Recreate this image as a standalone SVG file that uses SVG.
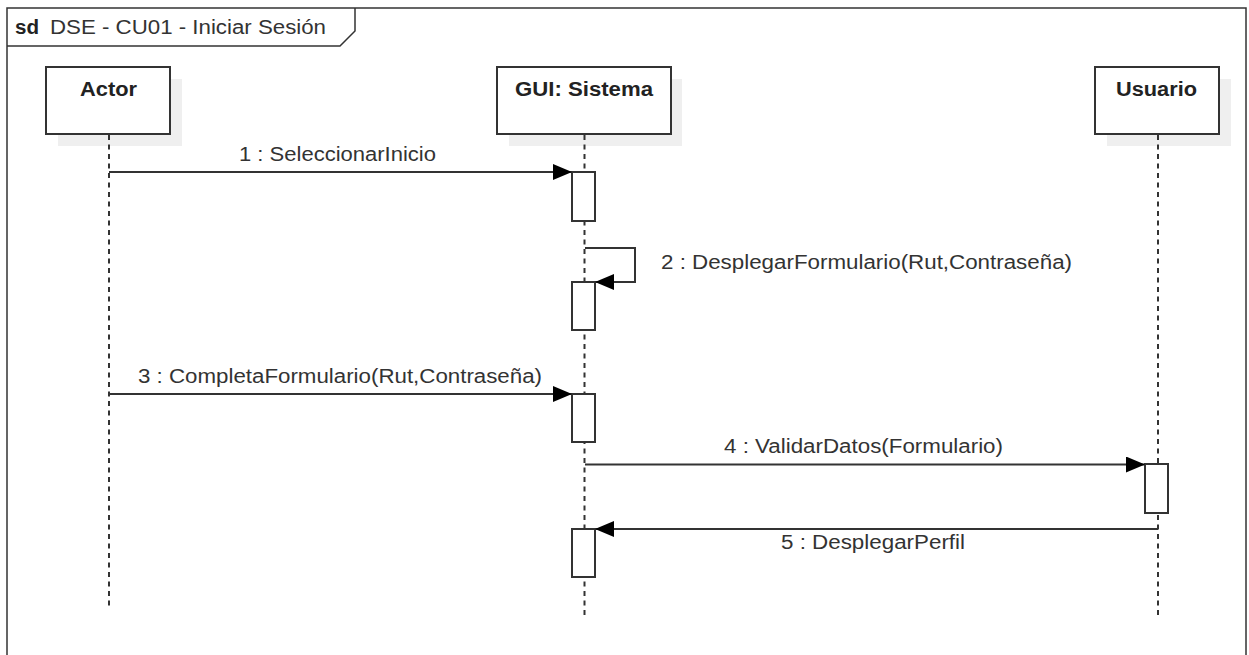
<svg xmlns="http://www.w3.org/2000/svg" width="1249" height="655" viewBox="0 0 1249 655">
<style>
.frame{fill:#fff;stroke:#333;stroke-width:1.5}
.shadow{fill:#efefef;stroke:none}
.box{fill:#fff;stroke:#333;stroke-width:2}
.act{fill:#fff;stroke:#333;stroke-width:2}
.life{fill:none;stroke:#333;stroke-width:2;stroke-dasharray:5 4.5}
.msg{fill:none;stroke:#333;stroke-width:2}
text{font-family:"Liberation Sans",Arial,sans-serif;font-size:20px;fill:#333}
.b{font-weight:bold;fill:#222}
</style>
<defs>
<marker id="arr" markerUnits="userSpaceOnUse" markerWidth="20" markerHeight="18" refX="19" refY="8" orient="auto">
<path d="M0,0 L19,8 L0,16 Z" fill="#000"/>
</marker>
</defs>
<rect width="1249" height="655" fill="#fff"/>
<g id="frame">
<rect class="frame" x="7" y="8" width="1239" height="660"/>
<path d="M7,46 H340 L355,31 V8" fill="none" stroke="#333" stroke-width="1.5"/>
<text class="b" x="15" y="34" textLength="24" lengthAdjust="spacingAndGlyphs">sd</text>
<text x="50" y="34" textLength="276" lengthAdjust="spacingAndGlyphs">DSE - CU01 - Iniciar Sesión</text>
</g>
<g id="actor">
<rect class="shadow" x="58" y="79" width="124" height="67"/>
<rect class="box" x="46" y="67" width="124" height="67"/>
<text class="b" x="80" y="96" textLength="57" lengthAdjust="spacingAndGlyphs">Actor</text>
<line class="life" x1="109" y1="135" x2="109" y2="606"/>
</g>
<g id="gui">
<rect class="shadow" x="509" y="79" width="173" height="67"/>
<rect class="box" x="497" y="67" width="174" height="67"/>
<text class="b" x="515" y="96" textLength="138" lengthAdjust="spacingAndGlyphs">GUI: Sistema</text>
<line class="life" x1="584.5" y1="135" x2="584.5" y2="617"/>
<rect class="act" x="572" y="172" width="23" height="49"/>
<rect class="act" x="572" y="282" width="23" height="48"/>
<rect class="act" x="572" y="394" width="23" height="48"/>
<rect class="act" x="572" y="529" width="23" height="48"/>
</g>
<g id="usuario">
<rect class="shadow" x="1107" y="79" width="124" height="67"/>
<rect class="box" x="1095" y="67" width="124" height="67"/>
<text class="b" x="1116" y="96" textLength="81" lengthAdjust="spacingAndGlyphs">Usuario</text>
<line class="life" x1="1158" y1="135" x2="1158" y2="617"/>
<rect class="act" x="1145" y="464" width="23" height="49"/>
</g>
<g id="connectors">
<line class="msg" x1="109" y1="172" x2="572" y2="172" marker-end="url(#arr)"/>
<text x="239" y="161" textLength="197" lengthAdjust="spacingAndGlyphs">1 : SeleccionarInicio</text>
<path class="msg" d="M585,248 H635 V282 H595" marker-end="url(#arr)"/>
<text x="661" y="269" textLength="411" lengthAdjust="spacingAndGlyphs">2 : DesplegarFormulario(Rut,Contraseña)</text>
<line class="msg" x1="109" y1="394" x2="572" y2="394" marker-end="url(#arr)"/>
<text x="138" y="383" textLength="404" lengthAdjust="spacingAndGlyphs">3 : CompletaFormulario(Rut,Contraseña)</text>
<line class="msg" x1="585" y1="464.5" x2="1145" y2="464.5" marker-end="url(#arr)"/>
<text x="724" y="453" textLength="279" lengthAdjust="spacingAndGlyphs">4 : ValidarDatos(Formulario)</text>
<line class="msg" x1="1158" y1="529" x2="595" y2="529" marker-end="url(#arr)"/>
<text x="781" y="549" textLength="184" lengthAdjust="spacingAndGlyphs">5 : DesplegarPerfil</text>
</g>
</svg>
